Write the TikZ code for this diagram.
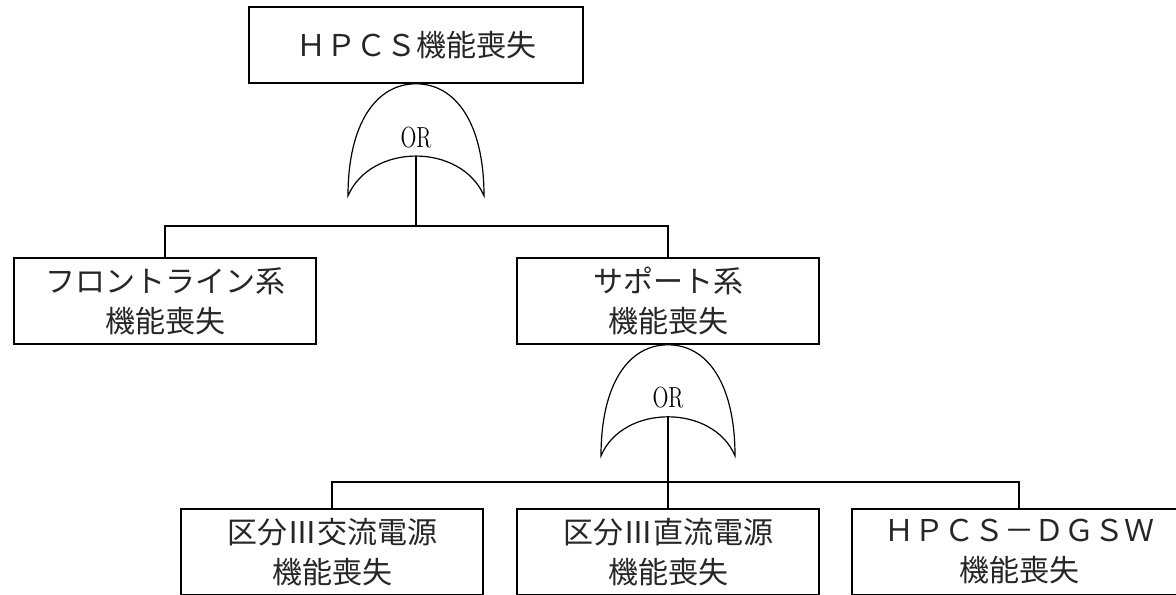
\documentclass[tikz,border=0pt]{standalone}
\usepackage{fontspec}
\newfontfamily\cjk{Noto Sans CJK JP}
\begin{document}
\begin{tikzpicture}[x=0.5pt,y=-0.5pt,
  evbox/.style={draw=black,line width=0.8pt,rectangle,inner sep=0pt,
    minimum height=43pt,align=center,font=\cjk\fontsize{15}{20}\selectfont,text=black!85},
  gateline/.style={draw=black,line width=0.6pt,fill=white},
  conn/.style={draw=black,line width=0.8pt},
  orlabel/.style={font=\fontsize{14.5}{16}\selectfont,inner sep=0pt,xscale=0.72}]
\useasboundingbox (0,0) rectangle (1176,594);
\clip (0,0) rectangle (1176,594);
% boxes
\node[evbox,minimum width=167pt,minimum height=38pt] (top) at (416,45) {ＨＰＣＳ機能喪失};
\node[evbox,minimum width=151pt] (front) at (165,301) {フロントライン系\\機能喪失};
\node[evbox,minimum width=151pt] (support) at (668,301) {サポート系\\機能喪失};
\node[evbox,minimum width=151pt] (ac) at (332,552) {区分Ⅲ交流電源\\機能喪失};
\node[evbox,minimum width=151pt] (dc) at (668,552) {区分Ⅲ直流電源\\機能喪失};
\node[evbox,minimum width=167pt] (dg) at (1019,552) {ＨＰＣＳ－ＤＧＳＷ\\機能喪失};
% gate 1
\begin{scope}[shift={(top.south)}]
  \path[gateline] (-68,112) .. controls (-68,40) and (-40,0) .. (0,0)
     .. controls (40,0) and (68,40) .. (68,112)
     .. controls (45,59) and (-45,59) .. cycle;
  \coordinate (g1in) at (0,72);
  \node[orlabel] (g1or) at (0,54) {OR};
\end{scope}
% gate 2
\begin{scope}[shift={(support.south)}]
  \path[gateline] (-67,111) .. controls (-67,40) and (-40,0) .. (0,0)
     .. controls (40,0) and (67,40) .. (67,111)
     .. controls (45,59) and (-45,59) .. cycle;
  \coordinate (g2in) at (0,72);
  \node[orlabel] (g2or) at (0,53) {OR};
\end{scope}
% connectors
\coordinate (bar1) at (g1in |- 0,226);
\coordinate (bar2) at (g2in |- 0,482);
\draw[conn] (g1in) -- (bar1);
\draw[conn] (front.north) -- (front.north |- bar1) -| (support.north);
\draw[conn] (g2in) -- (dc.north);
\draw[conn] (ac.north) -- (ac.north |- bar2) -| (dg.north);
\end{tikzpicture}
\end{document}
